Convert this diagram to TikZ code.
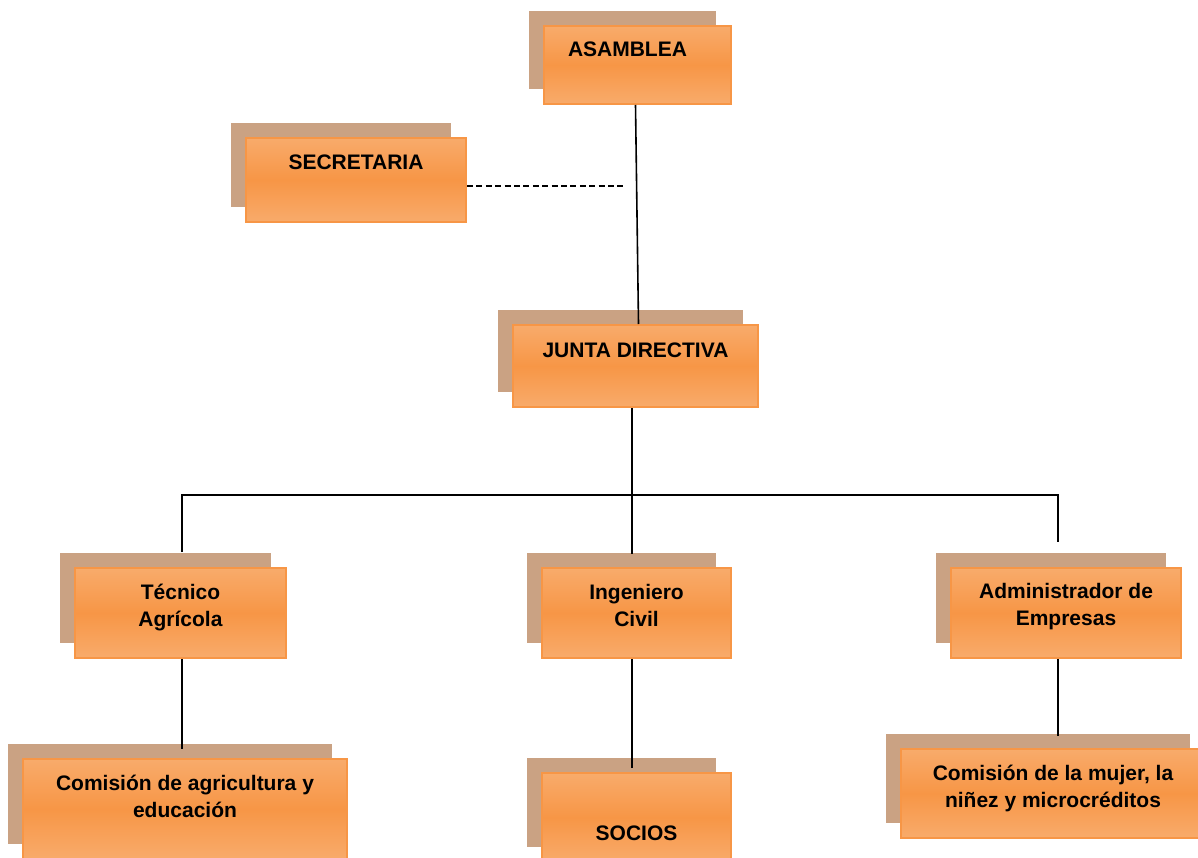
\documentclass[tikz,border=0pt]{standalone}
\usepackage{fontspec}
\setmainfont{Liberation Sans}
\usetikzlibrary{shadows}

\definecolor{orangeD}{RGB}{247,150,70}
\definecolor{orangeL}{RGB}{250,192,144}
\definecolor{shadowTan}{RGB}{202,162,131}

\pgfdeclareverticalshading{boxshade}{100bp}{color(0bp)=(orangeL); color(50bp)=(orangeD); color(100bp)=(orangeL)}

% box text: width, height, first baseline, text
\newcommand{\boxtext}[4]{\parbox[t][#2pt][t]{#1pt}{\centering\rule{0pt}{#3pt}#4}}

\begin{document}
\begin{tikzpicture}[x=1pt, y=1pt,
    orgbox/.style={draw=orangeD, line width=2pt, inner sep=0pt,
        shading=boxshade,
        drop shadow={fill=shadowTan, opacity=1, shadow xshift=-15pt, shadow yshift=15pt},
        font=\fontsize{21}{27}\selectfont\bfseries},
    link/.style={line width=1.6pt}]
    \useasboundingbox (0,0) rectangle (1198,-858);

    % Boxes
    \node[orgbox] (asam)   at (637.5,-65)   {\boxtext{187}{78}{31}{ASAMBLEA\hspace*{20pt}}};
    \node[orgbox] (secr)   at (356,-180)    {\boxtext{220}{84}{32}{SECRETARIA}};
    \node[orgbox] (junta)  at (635.5,-366)  {\boxtext{245}{82}{32}{JUNTA DIRECTIVA}};
    \node[orgbox] (tec)    at (180.5,-613)  {\boxtext{211}{90}{31}{Técnico\\Agrícola}};
    \node[orgbox] (ing)    at (636.5,-613)  {\boxtext{189}{90}{31}{Ingeniero\\Civil}};
    \node[orgbox] (adm)    at (1066,-613)   {\boxtext{230}{90}{30}{Administrador de\\Empresas}};
    \node[orgbox] (agri)   at (185,-809)    {\boxtext{324}{100}{31}{Comisión de agricultura y\\educación}};
    \node[orgbox] (socios) at (636.5,-817.5){\boxtext{189}{89}{67}{SOCIOS}};
    \node[orgbox] (mujer)  at (1053,-793.5) {\boxtext{304}{89}{31}{Comisión de la mujer, la\\niñez y microcréditos}};

    % Bus and line ends
    \coordinate (busL) at (182,-495);
    \coordinate (busM) at (632,-495);
    \coordinate (busR) at (1058,-495);
    \coordinate (dashend) at (626,-186);

    % Connectors
    \draw[link] ([xshift=-2pt]asam.south) -- ([xshift=3pt]junta.north);
    \draw[line width=1.3pt, dash pattern=on 6pt off 3.4pt] (secr.east |- dashend) -- (dashend);
    \draw[link] (busM |- junta.south) -- (busM);
    \draw[link, shorten <=15pt, shorten >=25pt]
        (busL |- tec.north) -- (busL) -- (busR) -- (busR |- adm.north);
    \draw[link, shorten >=13pt] (busM) -- (busM |- ing.north);

    \draw[link, shorten >=9pt]  (busL |- tec.south) -- (busL |- agri.north);
    \draw[link, shorten >=4pt]  (busM |- ing.south) -- (busM |- socios.north);
    \draw[link, shorten >=12pt] (busR |- adm.south) -- (busR |- mujer.north);
\end{tikzpicture}
\end{document}
